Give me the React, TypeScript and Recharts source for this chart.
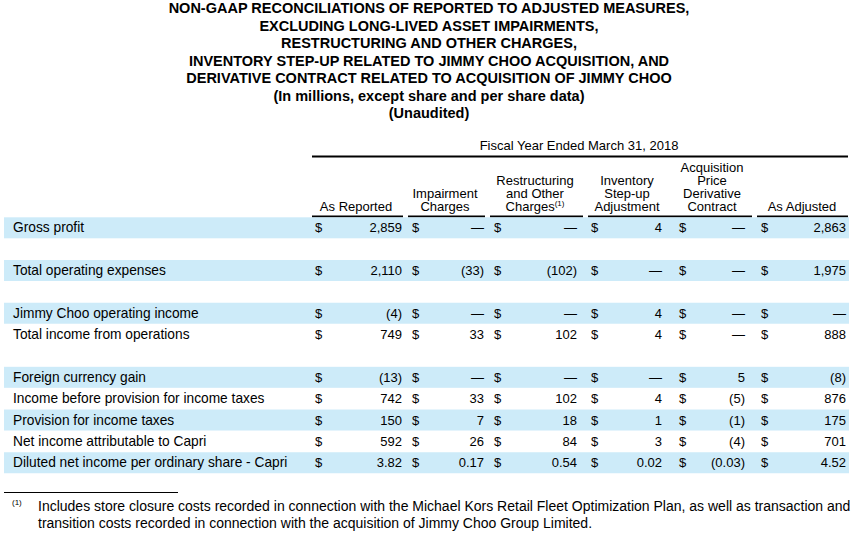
import React from "react";
import { BarChart, Bar, XAxis, YAxis, Customized } from "recharts";

// rows of the reconciliation table (empty label = spacer row)
const rowLabels = [
  "Gross profit",
  "",
  "Total operating expenses",
  "",
  "Jimmy Choo operating income",
  "Total income from operations",
  "",
  "Foreign currency gain",
  "Income before provision for income taxes",
  "Provision for income taxes",
  "Net income attributable to Capri",
  "Diluted net income per ordinary share - Capri",
];

// null = spacer row, 0 = dash
const asReported = [2859, null, 2110, null, -4, 749, null, -13, 742, 150, 592, 3.82];
const impairment = [0, null, -33, null, 0, 33, null, 0, 33, 7, 26, 0.17];
const restructuring = [0, null, -102, null, 0, 102, null, 0, 102, 18, 84, 0.54];
const inventoryStepUp = [4, null, 0, null, 4, 4, null, 0, 4, 1, 3, 0.02];
const derivative = [0, null, 0, null, 0, 0, null, 5, -5, -1, -4, -0.03];
const asAdjusted = [2863, null, 1975, null, 0, 888, null, -8, 876, 175, 701, 4.52];

const titleLines = [
  "NON-GAAP RECONCILIATIONS OF REPORTED TO ADJUSTED MEASURES,",
  "EXCLUDING LONG-LIVED ASSET IMPAIRMENTS,",
  "RESTRUCTURING AND OTHER CHARGES,",
  "INVENTORY STEP-UP RELATED TO JIMMY CHOO ACQUISITION, AND",
  "DERIVATIVE CONTRACT RELATED TO ACQUISITION OF JIMMY CHOO",
  "(In millions, except share and per share data)",
  "(Unaudited)",
];

const periodLabel = "Fiscal Year Ended March 31, 2018";

const columnHeaders = [
  ["As Reported"],
  ["Impairment", "Charges"],
  ["Restructuring", "and Other", "Charges"],
  ["Inventory", "Step-up", "Adjustment"],
  ["Acquisition", "Price", "Derivative", "Contract"],
  ["As Adjusted"],
];

const footnoteLines = [
  "Includes store closure costs recorded in connection with the Michael Kors Retail Fleet Optimization Plan, as well as transaction and",
  "transition costs recorded in connection with the acquisition of Jimmy Choo Group Limited.",
];

// layout / style
const FONT = "Arial, 'Liberation Sans', sans-serif";
const BAND = "#CDEBF9";
const shadedRows = [0, 2, 4, 7, 9, 11];
const dollarX = [315, 412, 494, 591, 679, 761];
const rightX = [402, 484, 577, 662, 745, 846];
const headerCenter = [356, 445, 535, 627, 712, 802];
const underlines = [
  [312, 403],
  [408, 485],
  [490, 583],
  [588, 752],
  [757, 848],
];

const columns = [asReported, impairment, restructuring, inventoryStepUp, derivative, asAdjusted];

const data = rowLabels.map((label, i) => ({
  id: `r${i}`,
  label,
  span: 1,
  values: columns.map((c) => c[i]),
}));

const fmt = (v: number | null) => {
  if (v === null || v === undefined) return "";
  if (v === 0) return "\u2014";
  const d = Number.isInteger(v) ? 0 : 2;
  const s = Math.abs(v).toLocaleString("en-US", { minimumFractionDigits: d, maximumFractionDigits: d });
  return v < 0 ? `(${s})` : s;
};

const RowShape = (props: any) => {
  const { x, y, width, height, payload, index } = props;
  const base = y + height / 2 + 4.5;
  const hasValues = payload.values.some((v: number | null) => v !== null);
  return (
    <g>
      {shadedRows.includes(index) && <rect x={x} y={y} width={width} height={height} fill={BAND} />}
      <text x={13} y={base} fontSize={13.75} fill="#000" fontFamily={FONT}>
        {payload.label}
      </text>
      {hasValues &&
        payload.values.map((v: number | null, c: number) => (
          <g key={c}>
            <text x={dollarX[c]} y={base} fontSize={13} fill="#000" fontFamily={FONT}>
              $
            </text>
            <text x={rightX[c]} y={base} fontSize={13} fill="#000" fontFamily={FONT} textAnchor="end">
              {fmt(v)}
            </text>
          </g>
        ))}
    </g>
  );
};

const Frame = () => (
  <g fontFamily={FONT} fill="#000">
    {titleLines.map((t, i) => (
      <text key={t} x={429} y={13 + i * 17.5} fontSize={14.5} fontWeight="bold" textAnchor="middle">
        {t}
      </text>
    ))}
    <text x={579} y={150} fontSize={13} textAnchor="middle">
      {periodLabel}
    </text>
    <line x1={312} x2={848} y1={156.5} y2={156.5} stroke="#000" strokeWidth={2} />
    {columnHeaders.map((lines, c) =>
      lines.map((t, j) => (
        <text
          key={`${c}-${j}`}
          x={headerCenter[c]}
          y={211 - (lines.length - 1 - j) * 13}
          fontSize={13}
          textAnchor="middle"
        >
          {t}
          {c === 2 && j === lines.length - 1 && (
            <tspan fontSize={8} dy={-5}>
              (1)
            </tspan>
          )}
        </text>
      ))
    )}
    {underlines.map(([a, b]) => (
      <line key={a} x1={a} x2={b} y1={216.5} y2={216.5} stroke="#000" strokeWidth={2} />
    ))}
    <line x1={4} x2={178} y1={492.5} y2={492.5} stroke="#000" strokeWidth={1} />
    <text x={12} y={505} fontSize={8}>
      (1)
    </text>
    {footnoteLines.map((t, i) => (
      <text key={i} x={38} y={511 + i * 16.5} fontSize={14}>
        {t}
      </text>
    ))}
  </g>
);

export default function App() {
  return (
    <div style={{ position: "absolute", left: 0, top: 0, background: "#fff" }}>
      <BarChart
        width={863}
        height={546}
        data={data}
        layout="vertical"
        barCategoryGap={0}
        barGap={0}
        margin={{ top: 217.3, right: 14, bottom: 72.4, left: 4 }}
      >
        <XAxis type="number" domain={[0, 1]} hide />
        <YAxis type="category" dataKey="id" hide />
        <Bar dataKey="span" shape={<RowShape />} isAnimationActive={false} />
        <Customized component={Frame} />
      </BarChart>
    </div>
  );
}
